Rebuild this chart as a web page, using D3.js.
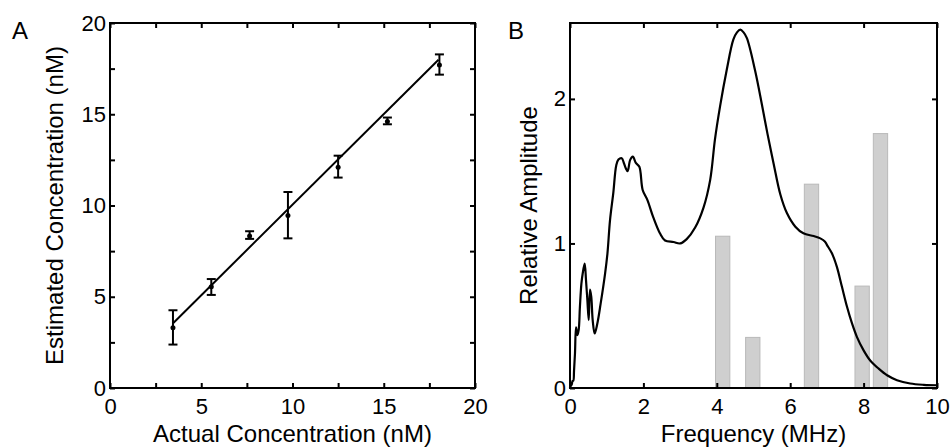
<!DOCTYPE html>
<html>
<head>
<meta charset="utf-8">
<script src="https://cdn.jsdelivr.net/npm/d3@7"></script>
<style>
  html, body { margin: 0; padding: 0; background: #fff; }
  svg { display: block; }
  text { font-family: "Liberation Sans", Arial, sans-serif; fill: #000; }
</style>
</head>
<body>
<svg id="chart" width="952" height="447"></svg>
<script>
// ---------- Panel A data ----------
const actualConc = [3.45, 5.55, 7.65, 9.75, 12.5, 15.2, 18.05];
const estConc    = [3.3, 5.55, 8.33, 9.45, 12.1, 14.6, 17.7];
const errLow     = [2.38, 5.1, 8.17, 8.2, 11.53, 14.45, 17.17];
const errHigh    = [4.26, 5.97, 8.59, 10.74, 12.73, 14.82, 18.28];
const fitX = [3.47, 18.0];
const fitY = [3.56, 17.99];
const aTicks = [0, 2.5, 5, 7.5, 10, 12.5, 15, 17.5, 20];

// ---------- Panel B data ----------
const freq = [0, 0.02, 0.045, 0.07, 0.09, 0.11, 0.136, 0.164, 0.2, 0.236, 0.27, 0.31, 0.345, 0.4,
  0.436, 0.473, 0.51, 0.545, 0.58, 0.618, 0.672, 0.745, 0.836, 0.955, 1.02, 1.09, 1.18, 1.26, 1.32,
  1.41, 1.47, 1.52, 1.57, 1.64, 1.71, 1.80, 1.89, 1.98, 2.11, 2.27, 2.45, 2.59, 2.82, 3.0, 3.18,
  3.41, 3.64, 3.82, 3.95, 4.09, 4.27, 4.45, 4.55, 4.64, 4.73, 4.82, 5.04, 5.23, 5.38, 5.55, 5.73,
  5.91, 6.14, 6.36, 6.64, 6.82, 6.95, 7.0, 7.14, 7.27, 7.41, 7.55, 7.68, 7.82, 8.0, 8.18, 8.41,
  8.64, 8.91, 9.27, 9.64, 10.0];
const amplitude = [0, 0.03, 0.02, 0.05, 0.05, 0.12, 0.24, 0.42, 0.365, 0.40, 0.56, 0.72, 0.79, 0.86,
  0.746, 0.61, 0.47, 0.68, 0.63, 0.47, 0.377, 0.446, 0.585, 0.79, 0.93, 1.16, 1.35, 1.54, 1.58,
  1.59, 1.555, 1.52, 1.50, 1.578, 1.60, 1.555, 1.53, 1.37, 1.30, 1.18, 1.07, 1.02, 1.01, 1.0, 1.03,
  1.11, 1.25, 1.44, 1.72, 1.95, 2.20, 2.41, 2.46, 2.479, 2.46, 2.42, 2.20, 1.96, 1.76, 1.55, 1.34,
  1.21, 1.116, 1.07, 1.051, 1.035, 1.012, 0.99, 0.93, 0.84, 0.70, 0.56, 0.45, 0.352, 0.26, 0.19, 0.134,
  0.088, 0.054, 0.031, 0.022, 0.019];
const barCenter = [4.16, 4.98, 6.58, 7.96, 8.46];
const barHeight = [1.05, 0.35, 1.41, 0.705, 1.76];
const bXTicks = [0, 2, 4, 6, 8, 10];
const bYTicks = [0, 1, 2];

const svg = d3.select("#chart");
const TICK_FONT = 22, TITLE_FONT = 24;

function frame(g, x, y, xt, yt, xfmt, yfmt) {
  const [x0, x1] = x.range(), [y0, y1] = y.range();
  g.append("g").attr("transform", `translate(0,${y0})`)
    .call(d3.axisBottom(x).tickValues(xt).tickSizeInner(-5).tickSizeOuter(0).tickPadding(10).tickFormat(xfmt));
  g.append("g").attr("transform", `translate(0,${y1})`)
    .call(d3.axisTop(x).tickValues(xt).tickSizeInner(-5).tickSizeOuter(0).tickFormat(""));
  g.append("g").attr("transform", `translate(${x0},0)`)
    .call(d3.axisLeft(y).tickValues(yt).tickSizeInner(-5).tickSizeOuter(0).tickPadding(4).tickFormat(yfmt));
  g.append("g").attr("transform", `translate(${x1},0)`)
    .call(d3.axisRight(y).tickValues(yt).tickSizeInner(-5).tickSizeOuter(0).tickFormat(""));
  g.selectAll(".domain").remove();
  g.selectAll(".tick line").attr("stroke", "#000").attr("stroke-width", 2);
  g.selectAll(".tick text").attr("font-size", TICK_FONT).style("font-size", TICK_FONT + "px");
  g.append("rect").attr("x", x0).attr("y", y1).attr("width", x1 - x0).attr("height", y0 - y1)
    .attr("fill", "none").attr("stroke", "#000").attr("stroke-width", 2);
}

// ---------- Panel A ----------
const xA = d3.scaleLinear().domain([0, 20]).range([110, 475]);
const yA = d3.scaleLinear().domain([0, 20]).range([388, 23]);
const gA = svg.append("g");
const fmtA = d => (d % 5 === 0 ? d3.format("d")(d) : "");

gA.append("line")
  .attr("x1", xA(fitX[0])).attr("y1", yA(fitY[0]))
  .attr("x2", xA(fitX[1])).attr("y2", yA(fitY[1]))
  .attr("stroke", "#000").attr("stroke-width", 2);

const pts = actualConc.map((x, i) => ({ x, y: estConc[i], lo: errLow[i], hi: errHigh[i] }));
const eb = gA.append("g").attr("stroke", "#000").attr("stroke-width", 2);
pts.forEach(p => {
  eb.append("line").attr("x1", xA(p.x)).attr("x2", xA(p.x)).attr("y1", yA(p.lo)).attr("y2", yA(p.hi));
  eb.append("line").attr("x1", xA(p.x) - 4.5).attr("x2", xA(p.x) + 4.5).attr("y1", yA(p.lo)).attr("y2", yA(p.lo));
  eb.append("line").attr("x1", xA(p.x) - 4.5).attr("x2", xA(p.x) + 4.5).attr("y1", yA(p.hi)).attr("y2", yA(p.hi));
});
gA.selectAll("circle.pt").data(pts).join("circle").attr("class", "pt")
  .attr("cx", d => xA(d.x)).attr("cy", d => yA(d.y)).attr("r", 2.5).attr("fill", "#000");

frame(gA, xA, yA, aTicks, aTicks, fmtA, fmtA);

gA.append("text").attr("x", 292.5).attr("y", 442).attr("text-anchor", "middle")
  .style("font-size", TITLE_FONT + "px").text("Actual Concentration (nM)");
gA.append("text").attr("transform", "translate(63,205.5) rotate(-90)").attr("text-anchor", "middle")
  .style("font-size", TITLE_FONT + "px").text("Estimated Concentration (nM)");
gA.append("text").attr("x", 12).attr("y", 39).style("font-size", "24px").text("A");

// ---------- Panel B ----------
const xB = d3.scaleLinear().domain([0, 10]).range([570, 937]);
const yB = d3.scaleLinear().domain([0, 2.525]).range([388, 23]);
const gB = svg.append("g");
const barW = 0.39;

gB.selectAll("rect.bar").data(barCenter.map((c, i) => ({ c, h: barHeight[i] }))).join("rect")
  .attr("class", "bar")
  .attr("x", d => xB(d.c - barW / 2)).attr("width", d => xB(d.c + barW / 2) - xB(d.c - barW / 2))
  .attr("y", d => yB(d.h)).attr("height", d => yB(0) - yB(d.h))
  .attr("fill", "#cfcfcf").attr("stroke", "#b9b9b9").attr("stroke-width", 1);

const line = d3.line().x(d => xB(d[0])).y(d => yB(d[1])).curve(d3.curveCatmullRom.alpha(0.5));
gB.append("path").datum(freq.map((f, i) => [f, amplitude[i]]))
  .attr("d", line).attr("fill", "none").attr("stroke", "#000").attr("stroke-width", 2.2)
  .attr("stroke-linejoin", "round");

frame(gB, xB, yB, bXTicks, bYTicks, d3.format("d"), d3.format("d"));

gB.append("text").attr("x", 753.5).attr("y", 442).attr("text-anchor", "middle")
  .style("font-size", TITLE_FONT + "px").text("Frequency (MHz)");
gB.append("text").attr("transform", "translate(537,205.5) rotate(-90)").attr("text-anchor", "middle")
  .style("font-size", TITLE_FONT + "px").text("Relative Amplitude");
gB.append("text").attr("x", 508).attr("y", 39).style("font-size", "24px").text("B");
</script>
</body>
</html>
